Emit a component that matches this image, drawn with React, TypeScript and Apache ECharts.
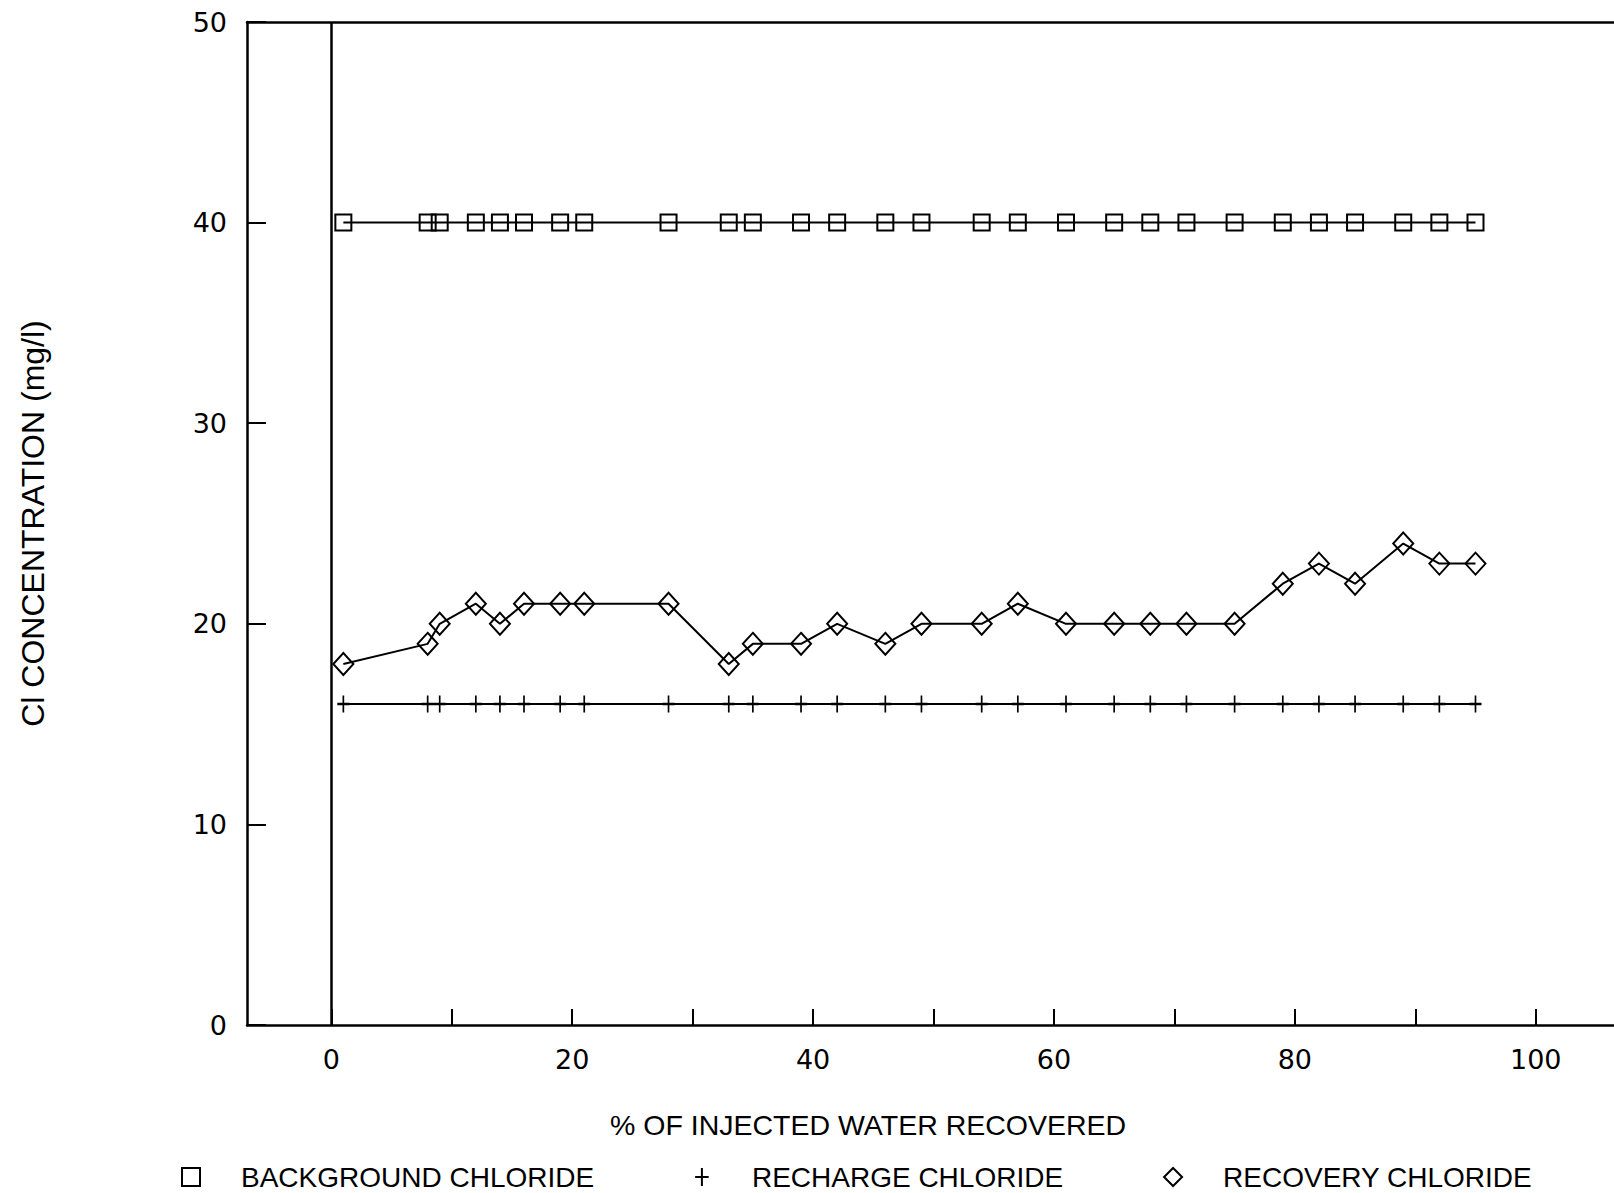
import React, { useEffect, useRef } from "react";
import * as echarts from "echarts";

const recoveredPct = [1, 8, 9, 12, 14, 16, 19, 21, 28, 33, 35, 39, 42, 46, 49, 54, 57, 61, 65, 68, 71, 75, 79, 82, 85, 89, 92, 95];
const backgroundCl = [40, 40, 40, 40, 40, 40, 40, 40, 40, 40, 40, 40, 40, 40, 40, 40, 40, 40, 40, 40, 40, 40, 40, 40, 40, 40, 40, 40];
const rechargeCl = [16, 16, 16, 16, 16, 16, 16, 16, 16, 16, 16, 16, 16, 16, 16, 16, 16, 16, 16, 16, 16, 16, 16, 16, 16, 16, 16, 16];
const recoveryCl = [18, 19, 20, 21, 20, 21, 21, 21, 21, 18, 19, 19, 20, 19, 20, 20, 21, 20, 20, 20, 20, 20, 22, 23, 22, 24, 23, 23];
const seriesNames = ["BACKGROUND CHLORIDE", "RECHARGE CHLORIDE", "RECOVERY CHLORIDE"];
const xTitle = "% OF INJECTED WATER RECOVERED";
const yTitle = "Cl CONCENTRATION (mg/l)";

const FONT = "Liberation Sans";
const NUMFONT = "DejaVu Sans";
const PLUS = "path://M6,0L6,16M0,8L12,8";

const pairs = (ys: number[]) => recoveredPct.map((x, i) => [x, ys[i]]);

const hollow = { color: "rgba(0,0,0,0)", borderColor: "#000", borderWidth: 2 };

export default function App() {
  const ref = useRef<HTMLDivElement>(null);
  useEffect(() => {
    if (!ref.current) return;
    const chart = echarts.init(ref.current, null, { renderer: "svg" });
    chart.setOption({
      animation: false,
      backgroundColor: "#fff",
      grid: { left: 247, right: 0, top: 22, bottom: 168 },
      xAxis: [
        {
          type: "value",
          min: -7,
          max: 106.5,
          splitNumber: 11,
          minInterval: 10,
          maxInterval: 10,
          axisLine: { show: true, onZero: false, lineStyle: { color: "#000", width: 2.5 } },
          axisTick: { show: true, inside: true, length: 16, lineStyle: { color: "#000", width: 2 } },
          axisLabel: {
            margin: 21,
            color: "#000",
            fontFamily: NUMFONT,
            fontSize: 27,
            showMinLabel: false,
            showMaxLabel: false,
            formatter: (v: number) => (v >= 0 && v % 20 === 0 ? String(v) : ""),
          },
          splitLine: { show: false },
        },
        {
          type: "value",
          position: "top",
          min: -7,
          max: 106.5,
          axisLine: { show: true, onZero: false, lineStyle: { color: "#000", width: 2.5 } },
          axisTick: { show: false },
          axisLabel: { show: false },
          splitLine: { show: false },
        },
      ],
      yAxis: {
        type: "value",
        min: 0,
        max: 50,
        interval: 10,
        name: yTitle,
        nameLocation: "middle",
        nameGap: 198,
        nameTextStyle: { color: "#000", fontFamily: FONT, fontSize: 32 },
        axisLine: { show: true, onZero: false, lineStyle: { color: "#000", width: 2.5 } },
        axisTick: { show: true, inside: true, length: 19, lineStyle: { color: "#000", width: 2 } },
        axisLabel: { margin: 20, color: "#000", fontFamily: NUMFONT, fontSize: 27 },
        splitLine: { show: false },
      },
      legend: {
        left: 176,
        top: 1158,
        itemWidth: 18,
        itemHeight: 18,
        itemGap: 100,
        textStyle: { color: "#000", fontFamily: FONT, fontSize: 28, padding: [0, 0, 0, 36] },
        itemStyle: hollow,
        lineStyle: { opacity: 0, width: 0 },
        data: [
          { name: seriesNames[0], icon: "rect" },
          { name: seriesNames[1], icon: PLUS },
          { name: seriesNames[2], icon: "diamond" },
        ],
      },
      graphic: [
        {
          type: "text",
          left: 610,
          top: 1110,
          style: { text: xTitle, fill: "#000", font: `28.5px "${FONT}"` },
        },
      ],
      series: [
        {
          name: seriesNames[0],
          type: "line",
          data: pairs(backgroundCl),
          symbol: "rect",
          symbolSize: 16,
          itemStyle: hollow,
          lineStyle: { color: "#000", width: 2 },
          markLine: {
            silent: true,
            symbol: "none",
            label: { show: false },
            lineStyle: { color: "#000", width: 2.5, type: "solid" },
            data: [{ xAxis: 0 }],
          },
        },
        {
          name: seriesNames[1],
          type: "line",
          data: pairs(rechargeCl),
          symbol: PLUS,
          symbolSize: [12, 17],
          itemStyle: hollow,
          lineStyle: { color: "#000", width: 2 },
        },
        {
          name: seriesNames[2],
          type: "line",
          data: pairs(recoveryCl),
          symbol: "diamond",
          symbolSize: [20, 22],
          itemStyle: hollow,
          lineStyle: { color: "#000", width: 2 },
        },
      ],
    });
    return () => chart.dispose();
  }, []);
  return (
    <div
      ref={ref}
      style={{ position: "fixed", left: 0, top: 0, width: 1614, height: 1193, background: "#fff" }}
    />
  );
}
